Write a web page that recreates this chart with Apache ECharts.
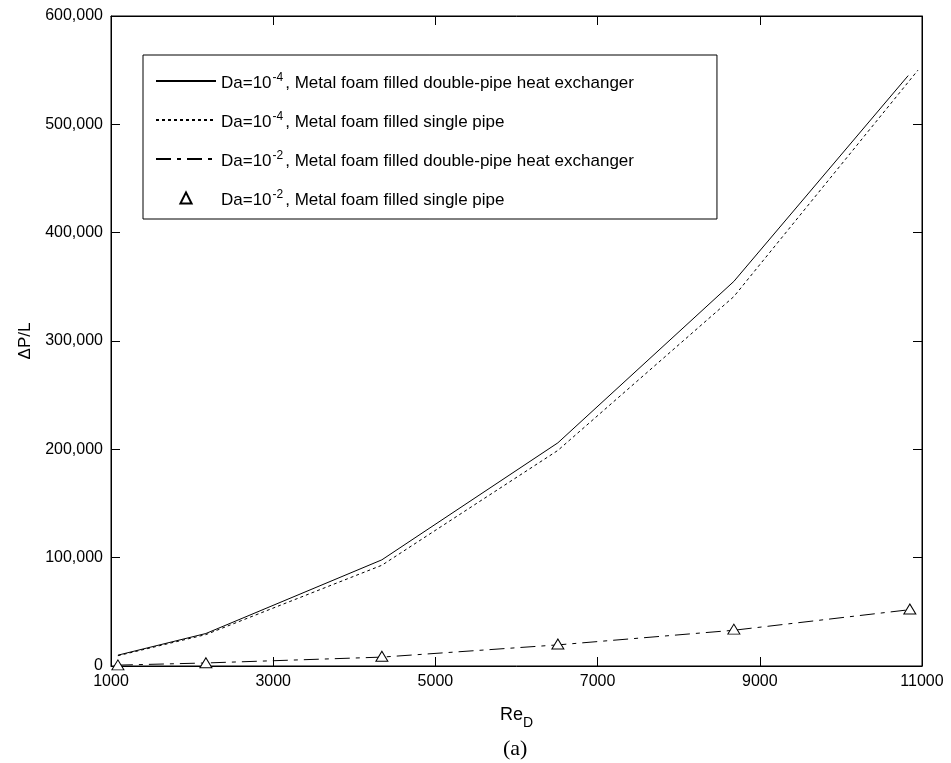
<!DOCTYPE html>
<html>
<head>
<meta charset="utf-8">
<script src="https://cdn.jsdelivr.net/npm/echarts@6/dist/echarts.min.js"></script>
<style>html,body{margin:0;padding:0;background:#fff}#c{width:951px;height:763px}</style>
</head>
<body>
<div id="c"></div>
<script>
// ---- data ----
const reSolid  = [1085, 2170, 4340, 6510, 8680, 10830];
const dpSolid  = [10000, 30000, 98000, 206000, 355000, 545000];
const reDotted = [1085, 2170, 4340, 6510, 8680, 10950];
const dpDotted = [9500, 29000, 93000, 199000, 341000, 550000];
const reDash   = [1085, 2170, 4340, 6510, 8680, 10850];
const dpDash   = [800, 2800, 8200, 19500, 33000, 52000];
const reTri    = [1085, 2170, 4340, 6510, 8680, 10850];
const dpTri    = [1000, 3000, 9000, 20300, 34000, 52600];
const seriesNames = ['s1', 's2', 's3', 's4'];
const legendExp   = ['-4', '-4', '-2', '-2'];
const legendText  = [', Metal foam filled double-pipe heat exchanger',
                     ', Metal foam filled single pipe',
                     ', Metal foam filled double-pipe heat exchanger',
                     ', Metal foam filled single pipe'];
const xTicks = {min: 1000, max: 11000, interval: 2000};
const yTicks = {min: 0, max: 600000, interval: 100000};

const pairs = (xs, ys) => xs.map((x, i) => [x, ys[i]]);
const F = 'Liberation Sans';
const chart = echarts.init(document.getElementById('c'), null, {renderer: 'canvas'});
const tickStyle = {show: true, inside: true, length: 9, lineStyle: {color: '#000', width: 1}};
chart.setOption({
  animation: false,
  backgroundColor: '#fff',
  grid: {left: 111, right: 29, top: 16, bottom: 97, show: true, borderColor: '#000', borderWidth: 1, containLabel: false},
  title: {text: '(a)', left: 498, top: 733, textStyle: {fontFamily: 'Liberation Serif', fontSize: 22, fontWeight: 'normal', color: '#000'}},
  legend: {
    left: 143, top: 55, orient: 'vertical',
    data: [
      {name: 's1', itemStyle: {opacity: 0}},
      {name: 's2', itemStyle: {opacity: 0}},
      {name: 's3', itemStyle: {opacity: 0}},
      {name: 's4'}
    ],
    borderColor: '#000', borderWidth: 1,
    padding: [17, 83, 10, 12],
    itemGap: 19, itemWidth: 60, itemHeight: 14,
    formatter: function (name) {
      const i = seriesNames.indexOf(name);
      return '{n|Da=10}{s|' + legendExp[i] + '}{n|' + legendText[i] + '}';
    },
    textStyle: {
      color: '#000', fontFamily: F, fontSize: 17,
      rich: {
        n: {fontFamily: F, fontSize: 17, color: '#000', verticalAlign: 'bottom', lineHeight: 22},
        s: {fontFamily: F, fontSize: 12, color: '#000', verticalAlign: 'bottom', padding: [0, 2, 8, 1], lineHeight: 14}
      }
    }
  },
  xAxis: [{
    type: 'value', position: 'bottom', min: xTicks.min, max: xTicks.max, interval: xTicks.interval,
    axisLine: {show: true, onZero: false, lineStyle: {color: '#000', width: 1}},
    axisTick: tickStyle, splitLine: {show: false},
    axisLabel: {color: '#000', fontFamily: F, fontSize: 16, margin: 8, formatter: v => String(v)},
    name: '{a|Re}{b|D}', nameLocation: 'middle', nameGap: 40,
    nameTextStyle: {rich: {
      a: {fontFamily: F, fontSize: 18, color: '#000', verticalAlign: 'top', lineHeight: 18},
      b: {fontFamily: F, fontSize: 14, color: '#000', verticalAlign: 'top', padding: [10, 0, 0, 0], lineHeight: 14}
    }}
  }, {
    type: 'value', position: 'top', min: xTicks.min, max: xTicks.max, interval: xTicks.interval,
    axisLine: {show: true, onZero: false, lineStyle: {color: '#000'}},
    axisTick: tickStyle, axisLabel: {show: false}, splitLine: {show: false}
  }],
  yAxis: [{
    type: 'value', position: 'left', min: yTicks.min, max: yTicks.max, interval: yTicks.interval,
    axisLine: {show: true, onZero: false, lineStyle: {color: '#000', width: 1}},
    axisTick: tickStyle, splitLine: {show: false},
    axisLabel: {color: '#000', fontFamily: F, fontSize: 16, margin: 8,
      formatter: v => v.toLocaleString('en-US')},
    name: 'ΔP/L', nameLocation: 'middle', nameGap: 73,
    nameTextStyle: {fontFamily: F, fontSize: 17, color: '#000'}
  }, {
    type: 'value', position: 'right', min: yTicks.min, max: yTicks.max, interval: yTicks.interval,
    axisLine: {show: true, onZero: false, lineStyle: {color: '#000'}},
    axisTick: tickStyle, axisLabel: {show: false}, splitLine: {show: false}
  }],
  series: [
    {name: 's1', type: 'line', data: pairs(reSolid, dpSolid), symbol: 'none',
     lineStyle: {color: '#000', width: 1, type: 'solid'}, itemStyle: {color: '#000'}},
    {name: 's2', type: 'line', data: pairs(reDotted, dpDotted), symbol: 'none',
     lineStyle: {color: '#000', width: 1, type: [3, 3]}, itemStyle: {color: '#000'}},
    {name: 's3', type: 'line', data: pairs(reDash, dpDash), symbol: 'none',
     lineStyle: {color: '#000', width: 1, type: [15, 6, 4, 6]}, itemStyle: {color: '#000'}},
    {name: 's4', type: 'line', data: pairs(reTri, dpTri), symbol: 'triangle', symbolSize: [12, 10],
     showSymbol: true, lineStyle: {opacity: 0, width: 0},
     itemStyle: {color: '#fff', borderColor: '#000', borderWidth: 1}}
  ]
});
</script>
</body>
</html>
